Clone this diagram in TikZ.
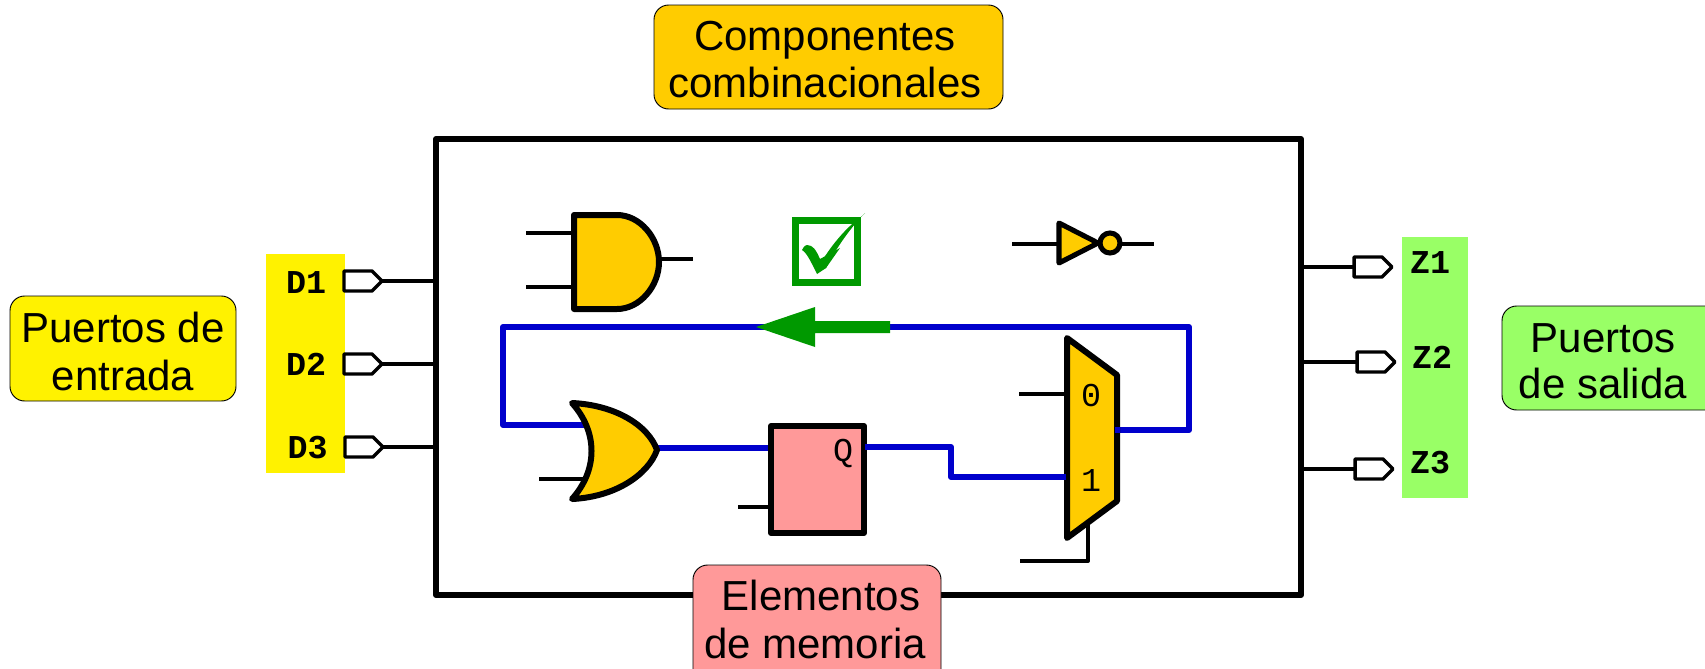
\documentclass[tikz,border=0pt]{standalone}
\usepackage{fontspec}
\setmainfont{Liberation Sans}
\newfontfamily\monofam{Liberation Mono}
\definecolor{wireblue}{HTML}{0000CC}
\definecolor{gatefill}{HTML}{FFCC00}
\definecolor{memfill}{HTML}{FF9999}
\definecolor{outfill}{HTML}{99FF66}
\definecolor{okgreen}{HTML}{009900}
\tikzset{
  x=0.75pt,y=-0.75pt,
  callout/.style={draw=black,line width=0.7pt,rounded corners=11pt,inner sep=0pt,align=center},
  calltext/.style={font=\fontsize{31.5}{36}\selectfont,anchor=base,inner sep=0pt},
  portlabel/.style={font=\monofam\bfseries\fontsize{25}{25}\selectfont,inner sep=0pt},
  pinlabel/.style={font=\monofam\fontsize{25}{25}\selectfont,inner sep=0pt},
  thin wire/.style={line width=3pt,line cap=butt},
  blue wire/.style={line width=4.4pt,draw=wireblue,line join=round},
  gate/.style={draw=black,line width=4.5pt,line join=round},
  port/.style={draw=black,fill=white,line width=2.6pt,line join=round},
}
\begin{document}
\begin{tikzpicture}
\useasboundingbox (0,0) rectangle (1705,668);
\clip (0,0) rectangle (1705,668);
% bands
\fill[yellow] (266,254) rectangle (345,473);
\fill[outfill] (1402,237) rectangle (1468,498);
% main box
\draw[line width=4.5pt,line join=round] (436,139) rectangle (1301,595);
\coordinate (boxL1) at (436,281);\coordinate (boxL2) at (436,364);\coordinate (boxL3) at (436,447);
\coordinate (boxR1) at (1300,267);\coordinate (boxR2) at (1300,362);\coordinate (boxR3) at (1300,469);
% callouts
\draw[callout,fill=yellow] (10,296) rectangle (236,401);
\draw[callout,fill=gatefill] (654,5) rectangle (1003,109);
\draw[callout,fill=outfill] (1502,306) rectangle (1720,410);
\draw[callout,fill=memfill] (693,565) rectangle (941,690);
\node[calltext] (t1) at (123,342) {Puertos de};
\node[calltext] (t2) at (123,390) {entrada};
\node[calltext] (t3) at (825,50) {Componentes};
\node[calltext] (t4) at (825,97) {combinacionales};
\node[calltext] (t5) at (1603,352) {Puertos};
\node[calltext] (t6) at (1603,398) {de salida};
\node[calltext] (t7) at (821,610) {Elementos};
\node[calltext] (t8) at (815,658) {de memoria};
% port labels
\node[portlabel] (D1) at (306,283) {D1};
\node[portlabel] (D2) at (306,364) {D2};
\node[portlabel] (D3) at (307.5,448) {D3};
\node[portlabel] (Z1) at (1430,263) {Z1};
\node[portlabel] (Z2) at (1432,357) {Z2};
\node[portlabel] (Z3) at (1430,463) {Z3};
% input ports
\foreach \n/\px/\py in {1/344/281,2/344/364,3/345/447}{
  \draw[thin wire] (\px+36,\py) -- (boxL\n);
  \draw[port] (\px,\py-10) -- (\px+28,\py-10) -- (\px+38,\py) -- (\px+28,\py+10) -- (\px,\py+10) -- cycle;
}
% output ports
\foreach \n/\px/\py in {1/1354/267,2/1357/362,3/1355/469}{
  \draw[thin wire] (boxR\n) -- (\px,\py);
  \draw[port] (\px,\py-10) -- (\px+28,\py-10) -- (\px+38,\py) -- (\px+28,\py+10) -- (\px,\py+10) -- cycle;
}
% AND
\coordinate (andA) at (526,233);\coordinate (andB) at (526,287);\coordinate (andO) at (693,259);
\draw[thin wire] (andA) -- (575,233);
\draw[thin wire] (andB) -- (575,287);
\draw[thin wire] (658,259) -- (andO);
\draw[gate,fill=gatefill] (574,215) -- (617,215) .. controls (640,215) and (659,238) .. (659,262) .. controls (659,286) and (640,309) .. (617,309) -- (574,309) -- cycle;
% check
\draw[okgreen,line width=5pt] (795.5,220.5) rectangle (857.5,282.5);
\fill[okgreen] (865,213) -- (862,216) .. controls (840,232) and (825,255) .. (816,271) -- (817,272) -- (817,272) -- (826,268) .. controls (835,250) and (850,228) .. (865,213) -- cycle;
\fill[okgreen] (817,274) -- (826,268) -- (840,248) -- (820,259) .. controls (816,250) and (813,245) .. (807,245) .. controls (803,246) and (804,248) .. (802,250) .. controls (807,253) and (811,262) .. (817,274) -- cycle;
% inverter
\coordinate (invI) at (1012,244);\coordinate (invO) at (1154,244);
\draw[thin wire] (invI) -- (1060,244);
\draw[thin wire] (1120,244) -- (invO);
\draw[draw=black,line width=3.8pt,line join=round,fill=gatefill] (1059,223) -- (1098,243) -- (1059,263) -- cycle;
\draw[draw=black,line width=3.8pt,fill=gatefill] (1110,243) circle (10);
% blue loop
\coordinate (orU) at (590,425);\coordinate (muxO) at (1117,430);
\draw[blue wire] (muxO) -- (1189,430) -- (1189,327) -- (503,327) -- (503,425) -- (orU);
% green arrow
\fill[okgreen] (756,327) -- (815,307) -- (815,321) -- (890,321) -- (890,333) -- (815,333) -- (815,347) -- cycle;
% OR
\coordinate (orL) at (539,479);
\draw[thin wire] (orL) -- (592,479);
\draw[blue wire] (657,448) -- (773,448);
\draw[gate,fill=gatefill] (572,403) .. controls (615,405) and (648,425) .. (657,450) .. controls (648,475) and (615,497) .. (572,499) .. controls (598,470) and (598,432) .. (572,403) -- cycle;
% FF
\coordinate (ffC) at (738,507);
\draw[thin wire] (ffC) -- (770,507);
\draw[gate,fill=memfill] (771,426) rectangle (864,533);
\node[pinlabel] (Q) at (843,453) {Q};
\draw[blue wire] (865,447) -- (951,447) -- (951,477) -- (1067,477);
% MUX
\coordinate (mux0) at (1019,394);\coordinate (muxS) at (1020,561);
\draw[thin wire] (mux0) -- (1067,394);
\draw[thin wire,line join=round] (1088,520) -- (1088,561) -- (muxS);
\draw[gate,fill=gatefill] (1067,338) -- (1117,375) -- (1117,501) -- (1067,538) -- cycle;
\draw[blue wire] (951,477) -- (1066,477);
\fill[wireblue] (1115,427) rectangle (1120,433);
\node[pinlabel] (m0) at (1091,396) {0};
\node[pinlabel] (m1) at (1091,481) {1};
\end{tikzpicture}
\end{document}
